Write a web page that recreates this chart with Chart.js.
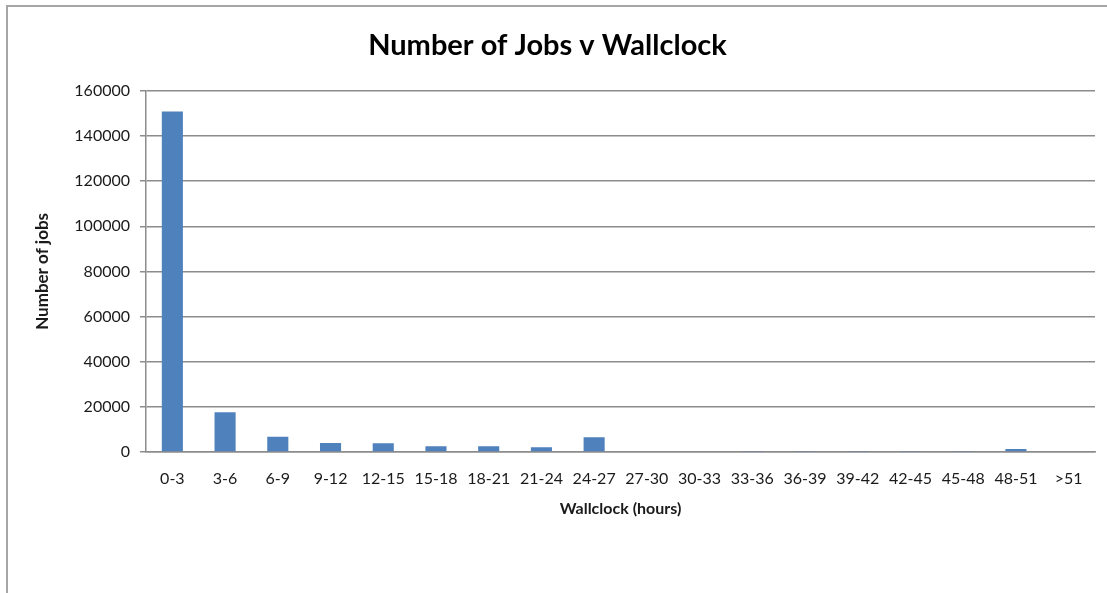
<!DOCTYPE html>
<html>
<head>
<meta charset="utf-8">
<script src="https://cdn.jsdelivr.net/npm/chart.js@4/dist/chart.umd.min.js"></script>
<style>
    body { margin: 0; background: #fff; }
    #frame { position: absolute; left: 6px; top: 5px; width: 1110px; height: 600px; border-left: 2px solid #a6a6a6; border-top: 2px solid #a6a6a6; }
    #wrap { position: absolute; left: 0; top: 0; width: 1107px; height: 593px; }
</style>
</head>
<body>
<div id="frame"></div>
<div id="wrap"><canvas id="myChart" width="1107" height="593"></canvas></div>
<script>
// bins of wallclock time (hours)
const wallclockBins = ['0-3', '3-6', '6-9', '9-12', '12-15', '15-18', '18-21', '21-24', '24-27',
    '27-30', '30-33', '33-36', '36-39', '39-42', '42-45', '45-48', '48-51', '>51'];
// number of jobs in each bin
const jobCounts = [150800, 17600, 6800, 4000, 3900, 2500, 2500, 2100, 6500,
    300, 300, 250, 250, 250, 250, 250, 1300, 300];
const yMin = 0;
const yMax = 160000;
const yStep = 20000;

const textColor = '#1a1a1a';
const gridColor = '#8c8c8c';

Chart.defaults.font.family = 'Lato, "Open Sans", sans-serif';
Chart.defaults.color = textColor;

let data = {
    labels: wallclockBins,
    datasets: [{
        label: 'Number of jobs',
        backgroundColor: '#4f81bd',
        borderWidth: 0,
        data: jobCounts,
        categoryPercentage: 1,
        barPercentage: 0.4
    }]
};

const config = {
    type: 'bar',
    data: data,
    options: {
        responsive: false,
        animation: false,
        layout: { padding: { left: 0, right: 12, top: 0, bottom: 0 } },
        plugins: {
            legend: { display: false },
            tooltip: { enabled: false },
            title: {
                display: true,
                text: 'Number of Jobs v Wallclock',
                color: '#000',
                font: { size: 29, weight: 'bold' },
                padding: { top: 28, bottom: 28 }
            }
        },
        scales: {
            x: {
                grid: { display: false, drawTicks: false },
                border: { display: true, color: gridColor, width: 1.5 },
                ticks: { font: { size: 16 }, padding: 17, maxRotation: 0, autoSkip: false },
                title: {
                    display: true,
                    text: 'Wallclock (hours)',
                    font: { size: 16, weight: 'bold' },
                    padding: { top: 0, bottom: 75 }
                },
                // pin the bottom axis so the plot ends where the reference does
                afterFit: (scale) => { scale.height = 141; }
            },
            y: {
                min: yMin,
                max: yMax,
                ticks: {
                    stepSize: yStep,
                    font: { size: 16 },
                    padding: 10,
                    callback: (value) => String(value)
                },
                grid: { color: gridColor, lineWidth: 1.5, tickLength: 6 },
                border: { display: true, color: gridColor, width: 1.5 },
                title: {
                    display: true,
                    text: 'Number of jobs',
                    font: { size: 17, weight: 'bold' },
                    padding: { top: 32, bottom: 0 }
                },
                afterFit: (scale) => { scale.width = 146; }
            }
        }
    }
};

myChart = new Chart(document.getElementById('myChart'), config);
</script>
</body>
</html>
